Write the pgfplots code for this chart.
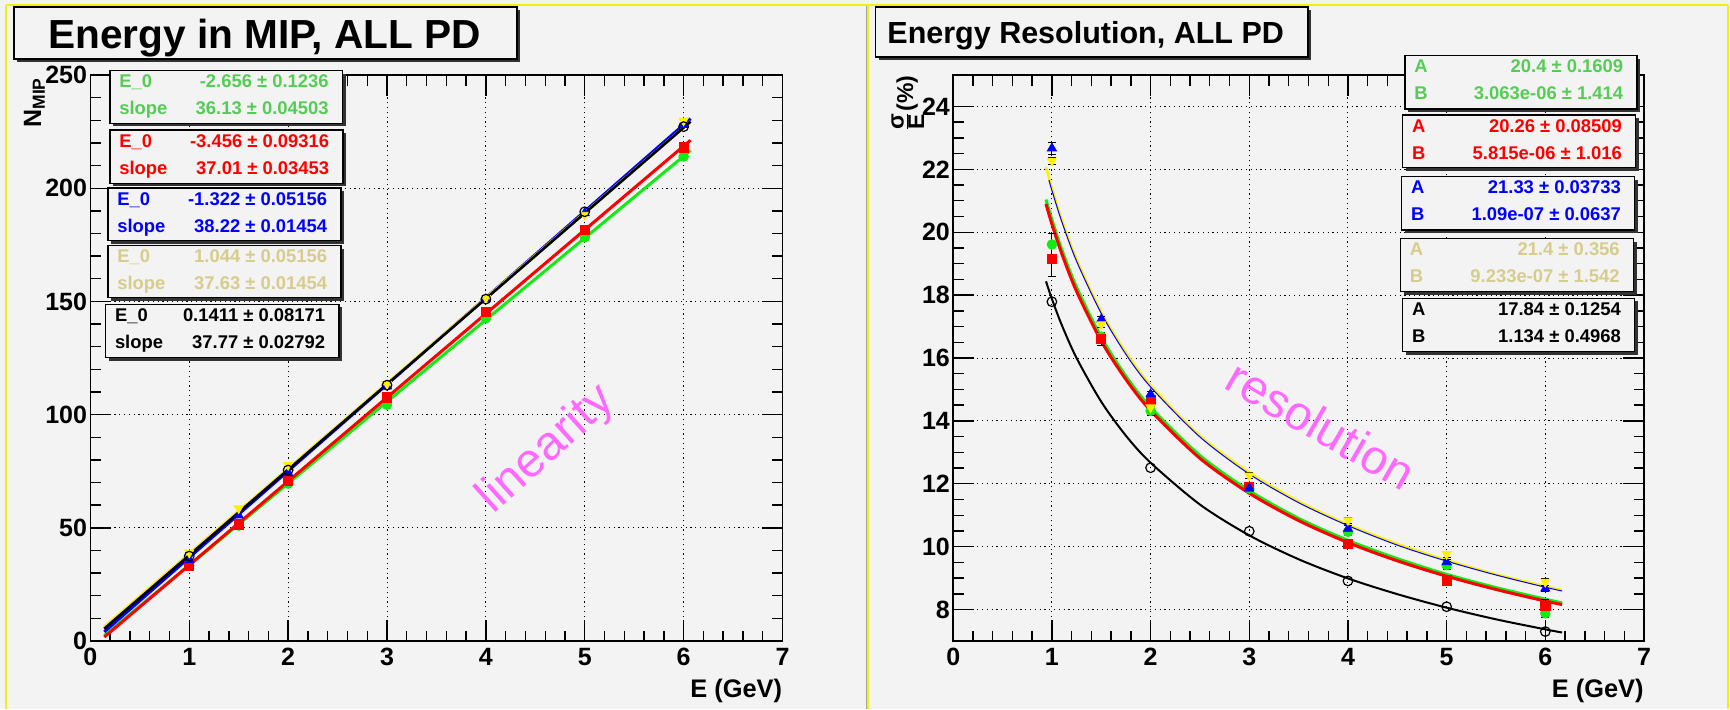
\documentclass[border=0pt]{standalone}
\usepackage{pgfplots}
\pgfplotsset{compat=1.18}
\usepackage{fontspec}
\setmainfont{Liberation Sans}
\definecolor{bg}{RGB}{243,243,243}
\definecolor{fyel}{RGB}{240,240,20}
\definecolor{lgreen}{RGB}{20,235,20}
\definecolor{tgreen}{RGB}{85,205,85}
\definecolor{tkhaki}{RGB}{214,204,140}
\definecolor{lyellow}{RGB}{255,240,0}
\definecolor{mag}{RGB}{255,105,255}
\definecolor{shadowc}{RGB}{50,50,50}
\newcommand{\fs}[1]{\fontsize{#1}{#1}\selectfont}
\newcommand{\statbox}[9]{%
  \fill[shadowc] (#1+3,#2+3) rectangle (#3+3,#4+3);
  \filldraw[fill=bg,draw=black,line width=0.6pt] (#1,#2) rectangle (#3,#4);
  \node[anchor=base west,inner sep=0,text=#5,font=\fs{9.2pt}\bfseries] at (#1+9,#2+17) {#6};
  \node[anchor=base east,inner sep=0,text=#5,font=\fs{9.2pt}\bfseries] at (#3-13.5,#2+17) {#7};
  \node[anchor=base west,inner sep=0,text=#5,font=\fs{9.2pt}\bfseries] at (#1+9,#2+44) {#8};
  \node[anchor=base east,inner sep=0,text=#5,font=\fs{9.2pt}\bfseries] at (#3-13.5,#2+44) {#9};
}
\pgfplotsset{
  rootaxis/.style={
    scale only axis, anchor=south west,
    xmin=0, xmax=7, xtick={0,1,...,7}, minor x tick num=4,
    grid=major,
    major grid style={black, line width=0.5pt, dash pattern=on 0.6pt off 1.8pt},
    axis line style={black, line width=0.8pt},
    tick style={black, line width=0.7pt},
    major tick length=10.5pt, minor tick length=5.25pt,
    xtick pos=both, ytick pos=both,
    /pgf/number format/assume math mode=true,
    tick label style={font=\fs{12.5pt}\bfseries},
    yticklabel style={anchor=east, inner sep=0pt, xshift=-1.5pt},
    xticklabel style={anchor=north, inner sep=0pt, yshift=-3.5pt},
    clip=true,
  }
}
\begin{document}
\begin{tikzpicture}
% canvas
\fill[bg] (0,0) rectangle (865pt,354.5pt);
\begin{scope}[x=0.5pt,y=-0.5pt,shift={(0,354.5pt)}]
  \draw[black!35, line width=0.5pt] (866,5) -- (866,709);
  \draw[fyel, line width=1.2pt] (6,5) -- (1728,5);
  \draw[fyel, line width=1.2pt] (6,5) -- (6,709);
  \draw[fyel, line width=1.2pt] (868,5) -- (868,709);
  \draw[fyel, line width=1.2pt] (1728,5) -- (1728,709);
\end{scope}

% ---------------- left: linearity ----------------
\begin{axis}[rootaxis, at={(45.2pt,34pt)}, width=346.05pt, height=283pt,
  ymin=0, ymax=250, ytick={0,50,...,250}, minor y tick num=4]
\addplot[lgreen, line width=1.5pt] coordinates {(0.14,2.40) (6.07,216.66)};
\addplot[red, line width=1.5pt] coordinates {(0.14,1.73) (6.07,221.2)};
\addplot[blue, line width=1.5pt] coordinates {(0.14,4.03) (6.07,230.7)};
\addplot[lyellow, line width=1.3pt] coordinates {(0.14,6.31) (6.07,229.45)};
\addplot[black, line width=1.3pt] coordinates {(0.14,5.43) (6.07,229.4)};
\addplot[only marks, mark=*, mark size=2.4pt, lgreen] coordinates {
 (1,33.5) (1.5,51.0) (2,69.5) (3,104.3) (4,142.5) (5,178.3) (6,214.0)};
\addplot[only marks, mark=square*, mark size=2.3pt, red] coordinates {
 (1,33.1) (1.5,51.5) (2,70.7) (3,107.6) (4,145.3) (5,181.5) (6,218.0)};
\addplot[only marks, mark=triangle*, mark size=2.6pt, blue] coordinates {
 (1,35.8) (1.5,55.5) (2,74.2) (3,112.5) (4,151.0) (5,189.0) (6,228.0)};
\addplot[only marks, mark=triangle*, mark size=2.6pt, lyellow, mark options={rotate=180}] coordinates {
 (1,39.0) (1.5,58.6) (2,77.7) (3,113.5) (4,151.5) (5,188.2) (6,229.8)};
\addplot[only marks, mark=o, mark size=2.4pt, black, mark options={line width=0.6pt}] coordinates {
 (1,37.5) (2,75.5) (3,113.0) (4,151.0) (5,189.6) (6,227.2)};
\end{axis}

% ---------------- right: resolution ----------------
\begin{axis}[rootaxis, at={(476.6pt,34pt)}, width=345.4pt, height=283pt,
  ymin=7, ymax=25, ytick={8,10,...,24}, minor y tick num=3]
\addplot[lgreen, line width=1.5pt, smooth] coordinates {
 (0.94,21.04) (1,20.40) (1.1,19.45) (1.25,18.25) (1.5,16.66) (1.75,15.42) (2,14.43)
 (2.5,12.90) (3,11.78) (3.5,10.90) (4,10.20) (4.5,9.62) (5,9.12) (5.5,8.70) (6,8.33) (6.17,8.21)};
\addplot[red, line width=1.5pt, smooth] coordinates {
 (0.94,20.90) (1,20.26) (1.1,19.32) (1.25,18.12) (1.5,16.54) (1.75,15.32) (2,14.33)
 (2.5,12.81) (3,11.70) (3.5,10.83) (4,10.13) (4.5,9.55) (5,9.06) (5.5,8.64) (6,8.27) (6.17,8.16)};
\addplot[lyellow, line width=1.2pt, smooth] coordinates {
 (0.94,22.07) (1,21.40) (1.1,20.40) (1.25,19.14) (1.5,17.47) (1.75,16.18) (2,15.13)
 (2.5,13.53) (3,12.36) (3.5,11.44) (4,10.70) (4.5,10.09) (5,9.57) (5.5,9.12) (6,8.74) (6.17,8.62)};
\addplot[blue, line width=0.5pt, smooth] coordinates {
 (0.97,21.66) (1,21.33) (1.1,20.34) (1.25,19.08) (1.5,17.42) (1.75,16.12) (2,15.08)
 (2.5,13.49) (3,12.31) (3.5,11.40) (4,10.67) (4.5,10.05) (5,9.54) (5.5,9.10) (6,8.71) (6.17,8.59)};
\addplot[black, line width=1pt, smooth] coordinates {
 (0.94,18.44) (1,17.88) (1.1,17.05) (1.25,16.00) (1.5,14.61) (1.75,13.53) (2,12.67)
 (2.5,11.34) (3,10.36) (3.5,9.60) (4,8.99) (4.5,8.49) (5,8.06) (5.5,7.69) (6,7.37) (6.17,7.27)};
\addplot[only marks, mark=*, mark size=2.4pt, lgreen,
  error bars/.cd, y dir=both, y explicit, error bar style={black, line width=0.5pt}, error mark options={rotate=90, black, mark size=2pt}]
  coordinates {(1,19.61) +- (0,0.36) (1.5,16.68) +- (0,0.15) (2,14.32) +- (0,0.15) (3,11.85) +- (0,0.1)
   (4,10.47) +- (0,0.12) (5,9.41) +- (0,0.12) (6,7.88) +- (0,0.12)};
\addplot[only marks, mark=square*, mark size=2.3pt, red,
  error bars/.cd, y dir=both, y explicit, error bar style={black, line width=0.5pt}, error mark options={rotate=90, black, mark size=2pt}]
  coordinates {(1,19.15) +- (0,0.55) (1.5,16.60) +- (0,0.2) (2,14.66) +- (0,0.15) (3,11.89) +- (0,0.1)
   (4,10.10) +- (0,0.1) (5,8.93) +- (0,0.1) (6,8.11) +- (0,0.2)};
\addplot[only marks, mark=triangle*, mark size=2.6pt, blue,
  error bars/.cd, y dir=both, y explicit, error bar style={black, line width=0.5pt}, error mark options={rotate=90, black, mark size=2pt}]
  coordinates {(1,22.67) +- (0,0.2) (1.5,17.23) +- (0,0.1) (2,14.85) +- (0,0.1) (3,11.86) +- (0,0.1)
   (4,10.57) +- (0,0.1) (5,9.51) +- (0,0.1) (6,8.67) +- (0,0.1)};
\addplot[only marks, mark=triangle*, mark size=2.6pt, lyellow, mark options={rotate=180},
  error bars/.cd, y dir=both, y explicit, error bar style={black, line width=0.5pt}, error mark options={rotate=90, black, mark size=2pt}]
  coordinates {(1,22.27) +- (0,0.1) (1.5,17.07) +- (0,0.1) (2,14.43) +- (0,0.25) (3,12.26) +- (0,0.1)
   (4,10.84) +- (0,0.1) (5,9.76) +- (0,0.1) (6,8.88) +- (0,0.1)};
\addplot[only marks, mark=o, mark size=2.4pt, black, mark options={line width=0.6pt}] coordinates {
 (1,17.79) (2,12.51) (3,10.49) (4,8.91) (5,8.09) (6,7.30)};
\end{axis}

% ---------------- annotations ----------------
\begin{scope}[x=0.5pt,y=-0.5pt,shift={(0,354.5pt)}]
  % titles
  \fill[shadowc] (17,10) rectangle (520,62);
  \filldraw[fill=bg,draw=black,line width=0.6pt] (14,7) rectangle (517,59);
  \node[anchor=base west,inner sep=0,font=\fs{20.3pt}\bfseries] at (48,48) {Energy in MIP, ALL PD};
  \fill[shadowc] (878.5,10) rectangle (1311,60);
  \filldraw[fill=bg,draw=black,line width=0.6pt] (875.5,7) rectangle (1308,57);
  \node[anchor=base west,inner sep=0,font=\fs{15.25pt}\bfseries] at (887,43) {Energy Resolution, ALL PD};
  % axis labels
  \node[rotate=90,anchor=base east,inner sep=0,font=\fs{12.5pt}\bfseries] at (41,77) {N\textsubscript{MIP}};
  \node[anchor=base east,inner sep=0,font=\fs{12.7pt}\bfseries] at (782.5,697) {E (GeV)};
  \node[rotate=90,anchor=base east,inner sep=0,font=\fs{11.5pt}\bfseries] at (913,75) {$\frac{\mbox{\bfseries σ}}{\mbox{\bfseries E}}$(\%)};
  \node[anchor=base east,inner sep=0,font=\fs{12.7pt}\bfseries] at (1644,697) {E (GeV)};
  % big labels
  \node[rotate=42,text=mag,font=\fs{24pt},inner sep=0] at (547,450) {linearity};
  \node[rotate=-30,text=mag,font=\fs{24pt},inner sep=0] at (1321,425) {resolution};
  % stats boxes, left
  \statbox{110}{70.7}{342.5}{123.3}{tgreen}{E\_0}{-2.656 ± 0.1236}{slope}{36.13 ± 0.04503}
  \statbox{110}{130}{343}{183.3}{red}{E\_0}{-3.456 ± 0.09316}{slope}{37.01 ± 0.03453}
  \statbox{108}{188}{341}{240.7}{blue}{E\_0}{-1.322 ± 0.05156}{slope}{38.22 ± 0.01454}
  \statbox{108}{245.7}{341}{297.7}{tkhaki}{E\_0}{1.044 ± 0.05156}{slope}{37.63 ± 0.01454}
  \statbox{105.6}{304.3}{339}{357.7}{black}{E\_0}{0.1411 ± 0.08171}{slope}{37.77 ± 0.02792}
  % stats boxes, right
  \statbox{1405}{55.7}{1637}{109}{tgreen}{A}{20.4 ± 0.1609}{B}{3.063e-06 ± 1.414}
  \statbox{1402.7}{115}{1635.8}{167.7}{red}{A}{20.26 ± 0.08509}{B}{5.815e-06 ± 1.016}
  \statbox{1401.6}{176.7}{1634.7}{230}{blue}{A}{21.33 ± 0.03733}{B}{1.09e-07 ± 0.0637}
  \statbox{1400.5}{238.7}{1633.6}{291.7}{tkhaki}{A}{21.4 ± 0.356}{B}{9.233e-07 ± 1.542}
  \statbox{1402.7}{298.3}{1634.7}{351.7}{black}{A}{17.84 ± 0.1254}{B}{1.134 ± 0.4968}
\end{scope}
\pgfresetboundingbox
\useasboundingbox (0,0) rectangle (865pt,354.5pt);
\end{tikzpicture}
\end{document}
